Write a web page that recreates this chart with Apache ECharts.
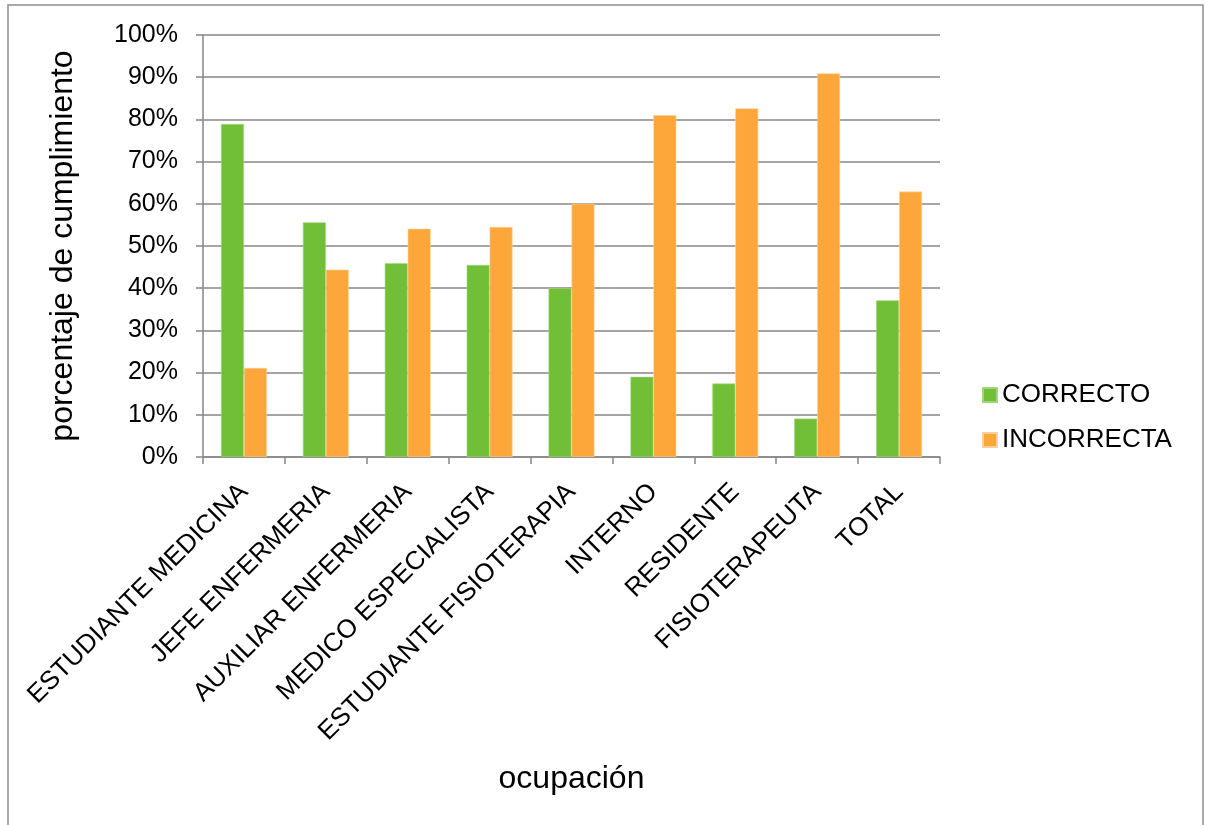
<!DOCTYPE html>
<html>
<head>
<meta charset="utf-8">
<script src="https://cdn.jsdelivr.net/npm/echarts@6/dist/echarts.min.js"></script>
<style>
  html, body { margin: 0; padding: 0; background: #ffffff; }
  #chart { width: 1206px; height: 825px; }
</style>
</head>
<body>
<div id="chart"></div>
<script>
// Occupations on the category axis
const categories = [
  'ESTUDIANTE MEDICINA',
  'JEFE ENFERMERIA',
  'AUXILIAR ENFERMERIA',
  'MEDICO ESPECIALISTA',
  'ESTUDIANTE FISIOTERAPIA',
  'INTERNO',
  'RESIDENTE',
  'FISIOTERAPEUTA',
  'TOTAL'
];

// Share of correct / incorrect practice per occupation (%)
const correcto   = [78.9, 55.6, 45.9, 45.5, 40.0, 19.0, 17.4, 9.1, 37.1];
const incorrecta = [21.1, 44.4, 54.1, 54.5, 60.0, 81.0, 82.6, 90.9, 62.9];

const seriesNames = ['CORRECTO', 'INCORRECTA'];
const yTicks = { min: 0, max: 100, step: 10 };

const FONT = '"Liberation Sans", Arial, sans-serif';
const AXIS_GREY = '#878787';

const chart = echarts.init(document.getElementById('chart'), null, { renderer: 'canvas' });

chart.setOption({
  backgroundColor: '#ffffff',
  animation: false,
  textStyle: { fontFamily: FONT, color: '#000000' },
  graphic: [{
    type: 'rect',
    shape: { x: 8, y: 5, width: 1195, height: 840 },
    style: { fill: 'none', stroke: '#8e8e8e', lineWidth: 1.5 },
    silent: true,
    z: -1
  }],
  grid: { left: 203, right: 266, top: 35, bottom: 368, containLabel: false },
  legend: {
    orient: 'vertical',
    left: 982,
    top: 382,
    padding: 0,
    icon: 'rect',
    itemWidth: 14,
    itemHeight: 14,
    itemGap: 19,
    data: seriesNames,
    textStyle: { fontFamily: FONT, fontSize: 26, color: '#000000', lineHeight: 26 }
  },
  xAxis: {
    type: 'category',
    data: categories,
    name: 'ocupación',
    nameLocation: 'middle',
    nameGap: 306,
    nameTextStyle: { fontFamily: FONT, fontSize: 32, color: '#000000' },
    axisLine: { lineStyle: { color: AXIS_GREY, width: 1.5 } },
    axisTick: { show: true, length: 7, lineStyle: { color: AXIS_GREY, width: 1.5 } },
    axisLabel: {
      interval: 0,
      rotate: 45,
      margin: 31,
      fontFamily: FONT,
      fontSize: 26,
      color: '#000000'
    },
    splitLine: { show: false }
  },
  yAxis: {
    type: 'value',
    min: yTicks.min,
    max: yTicks.max,
    interval: yTicks.step,
    name: 'porcentaje de cumplimiento',
    nameLocation: 'middle',
    nameRotate: 90,
    nameGap: 124,
    nameTextStyle: { fontFamily: FONT, fontSize: 32, color: '#000000' },
    axisLine: { show: true, lineStyle: { color: AXIS_GREY, width: 1.5 } },
    axisTick: { show: true, length: 7, lineStyle: { color: AXIS_GREY, width: 1.5 } },
    axisLabel: {
      margin: 25,
      fontFamily: FONT,
      fontSize: 25,
      color: '#000000',
      formatter: v => v + '%'
    },
    splitLine: { show: true, lineStyle: { color: AXIS_GREY, width: 1.5 } }
  },
  series: [
    {
      name: seriesNames[0],
      type: 'bar',
      data: correcto,
      barWidth: '28%',
      barGap: '0%',
      itemStyle: { color: '#70BF37', borderColor: '#9fd67a', borderWidth: 0.6 }
    },
    {
      name: seriesNames[1],
      type: 'bar',
      data: incorrecta,
      barWidth: '28%',
      barGap: '0%',
      itemStyle: { color: '#FDA73B', borderColor: '#fed19a', borderWidth: 0.6 }
    }
  ]
});
</script>
</body>
</html>
